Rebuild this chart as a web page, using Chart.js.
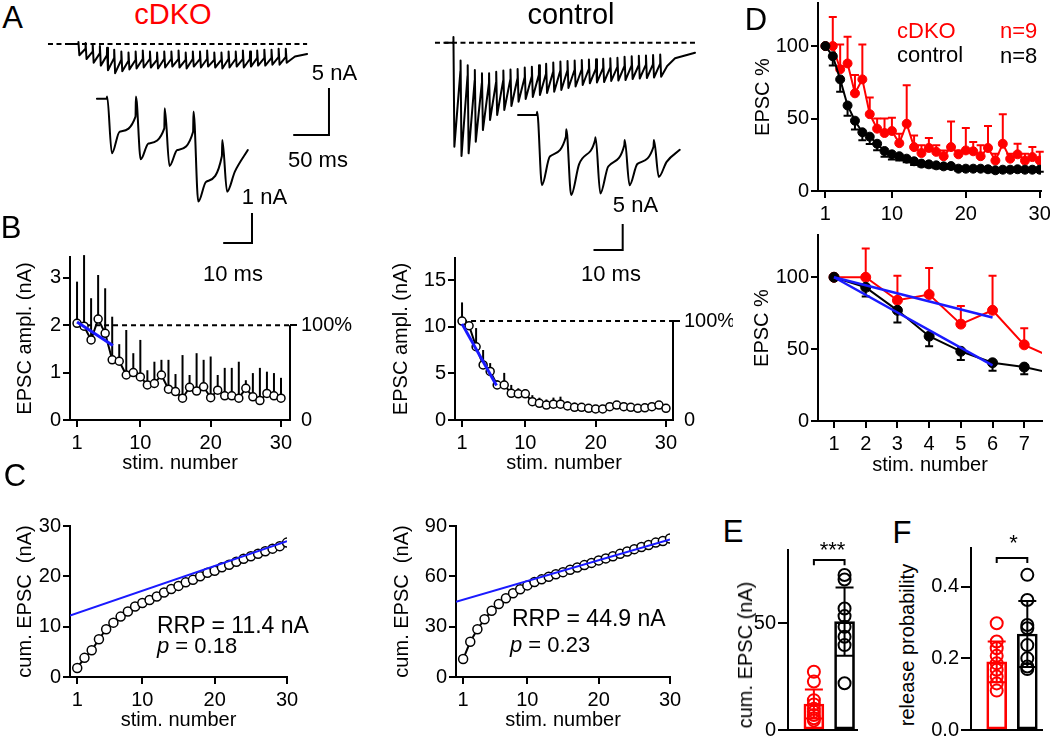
<!DOCTYPE html>
<html>
<head>
<meta charset="utf-8">
<title>EPSC trains cDKO vs control</title>
<script src="https://cdn.jsdelivr.net/npm/chart.js@4.4.1/dist/chart.umd.min.js"></script>
<style>
  html, body { margin: 0; padding: 0; background: #fff; }
  body { position: relative; width: 1050px; height: 738px; overflow: hidden;
         font-family: "Liberation Sans", Arial, Helvetica, sans-serif; }
  canvas { position: absolute; }
  .t { position: absolute; white-space: nowrap; line-height: 1; color: #000; }
</style>
</head>
<body>
<script>
// ---------------- data ----------------
const stim = [1, 2, 3, 4, 5, 6, 7, 8, 9, 10, 11, 12, 13, 14, 15, 16, 17, 18, 19, 20,
              21, 22, 23, 24, 25, 26, 27, 28, 29, 30];
const groups = [0, 1];   // 0 = cDKO, 1 = control

// A: example traces (nA), one entry per stimulus, 10 ms apart
const cdkoPre    = [0, -0.5, -0.8, -1.0, -1.2, -1.5, -1.7, -1.8, -1.7, -1.6, -1.6, -1.7, -1.6, -1.6, -1.6,
                    -1.7, -1.6, -1.6, -1.6, -1.7, -1.7, -1.6, -1.6, -1.6, -1.6, -1.5, -1.5, -1.5, -1.4, -1.4];
const cdkoSpike  = [0.2, 0.1, -0.1, -0.2, -0.4, -0.6, -0.8, -0.9, -0.8, -0.7, -0.8, -0.9, -0.8, -0.8, -0.7,
                    -0.9, -0.8, -0.8, -0.7, -0.9, -0.9, -0.8, -0.8, -0.7, -0.8, -0.7, -0.6, -0.6, -0.5, -0.5];
const cdkoTrough = [-1.2, -1.6, -2.0, -2.3, -2.8, -3.1, -2.9, -2.7, -2.6, -2.5, -2.5, -2.6, -2.5, -2.4, -2.5,
                    -2.6, -2.4, -2.5, -2.4, -2.5, -2.6, -2.5, -2.4, -2.5, -2.4, -2.3, -2.3, -2.2, -2.2, -2.0];
const cdkoTail   = [[303, -1.33], [320, -1.06]];              // [ms, nA]
const ctrlPre    = [0, -3.0, -3.5, -4.0, -4.3, -4.3, -4.2, -4.0, -3.9, -3.8, -3.7, -3.6, -3.4, -3.3, -3.1,
                    -3.0, -2.95, -2.9, -2.85, -2.8, -2.75, -2.7, -2.65, -2.6, -2.5, -2.45, -2.4, -2.35, -2.3, -2.25];
const ctrlSpike  = [0.6, -1.9, -2.4, -2.9, -3.25, -3.25, -3.1, -2.95, -2.85, -2.8, -2.65, -2.55, -2.4, -2.25, -2.1,
                    -2.0, -1.95, -1.9, -1.85, -1.8, -1.75, -1.7, -1.65, -1.6, -1.5, -1.45, -1.4, -1.35, -1.3, -1.25];
const ctrlTrough = [-11.06, -12.05, -11.77, -10.53, -9.29, -8.22, -7.69, -7.16, -6.73, -6.28, -5.99, -5.78, -5.56, -5.35, -5.21,
                    -5.03, -4.82, -4.66, -4.50, -4.32, -4.23, -4.18, -4.07, -4.02, -3.97, -3.86, -3.81, -3.76, -3.70, -3.62];
const ctrlTail   = [[300, -2.48], [311, -1.66], [339, -1.06]];

// A insets: first five responses (nA)
const cdkoInPre    = [0, -0.6, -0.99, -1.1, -1.91];
const cdkoInTop    = [0.07, 0.07, -0.32, -0.43, -1.38];
const cdkoInTrough = [-1.82, -2.02, -2.24, -3.43, -3.1];
const cdkoInMid    = [-1.1, -1.49, -1.71, -2.77, -2.43];
const cdkoInEnd    = -1.71;
const ctrlInPre    = [0, -4.2, -4.8, -5.8, -6.1];
const ctrlInTop    = [0.63, -2.75, -4.3, -4.8, -4.8];
const ctrlInTrough = [-13.5, -15.4, -15.1, -13.5, -11.9];
const ctrlInMid    = [-8.0, -9.5, -9.9, -9.4, -9.0];
const ctrlInEnd    = -6.7;

// B: EPSC amplitude (nA) mean and SEM
const cdkoAmp   = [2.04, 1.98, 1.69, 2.13, 1.83, 1.27, 1.24, 0.95, 1.00, 0.91, 0.74, 0.77, 0.95, 0.65, 0.60,
                   0.46, 0.69, 0.61, 0.70, 0.47, 0.63, 0.51, 0.51, 0.46, 0.67, 0.49, 0.41, 0.56, 0.51, 0.46];
const cdkoAmpSd = [0.88, 1.50, 0.88, 0.93, 0.95, 0.91, 0.36, 0.95, 0.41, 0.78, 0.31, 0.46, 0.32, 0.62, 0.37,
                   0.91, 0.26, 0.80, 0.57, 0.87, 0.32, 0.59, 0.59, 0.77, 0.17, 0.50, 0.69, 0.46, 0.48, 0.43];
const ctrlAmp   = [10.6, 10.1, 7.85, 5.9, 5.2, 3.75, 3.75, 2.86, 2.8, 2.8, 1.96, 1.79, 1.6, 1.7, 1.7,
                   1.5, 1.36, 1.36, 1.25, 1.18, 1.18, 1.43, 1.6, 1.43, 1.36, 1.25, 1.3, 1.43, 1.6, 1.25];
const ctrlAmpSd = [2.0, 0.4, 2.0, 1.6, 0.9, 0.5, 1.3, 0.9, 0.6, 0.5, 0.7, 0.6, 0.6, 0.7, 0.8,
                   0.5, 0.5, 0.4, 0.4, 0.4, 0.4, 0.4, 0.4, 0.4, 0.4, 0.4, 0.4, 0.4, 0.4, 0.4];
const cdkoRef = 2.0, ctrlRef = 10.6;            // 100 % level
const cdkoFit = [{x: 1, y: 2.07}, {x: 6.1, y: 1.57}];
const ctrlFit = [{x: 1, y: 10.3}, {x: 5.9, y: 3.7}];

// C: cumulative EPSC (nA) and back-extrapolated line
const cdkoCum = [1.8, 3.8, 5.3, 7.5, 9.5, 10.8, 12, 13, 14, 14.7, 15.3, 16, 16.8, 17.5, 18.1,
                 18.8, 19.3, 20, 20.7, 21.1, 21.8, 22.3, 22.9, 23.5, 24, 24.5, 25, 25.5, 26, 26.7];
const ctrlCum = [10.7, 21, 28.5, 34.4, 39.5, 43.5, 46.9, 49.9, 52.3, 54.6, 56.6, 58.2, 59.7, 61.2, 62.5,
                 63.9, 65.3, 66.7, 68, 69.5, 70.7, 72, 73.4, 74.8, 76.2, 77.5, 78.7, 80.1, 81.1, 82.5];
const cdkoRrpFit = [{x: 0, y: 12.2}, {x: 30, y: 27.0}];
const ctrlRrpFit = [{x: 0, y: 44.9}, {x: 30, y: 82.0}];

// D: normalised EPSC (%) mean and SEM
const ctrlNorm   = [100, 93, 77, 59, 48.5, 40.5, 37.5, 32.6, 27.6, 25.3, 24, 22.3, 20.5, 18.9, 18.4,
                    17.7, 17, 17.2, 15.4, 15.4, 15.4, 15.4, 15, 14.3, 14.7, 14.7, 15, 14.7, 14.7, 14.7];
const ctrlNormSd = [0, 6.4, 8.5, 7, 6, 5.5, 5, 4.5, 4, 3.5, 3, 2.5, 2.5, 2, 2,
                    2, 1.8, 1.8, 1.5, 1.5, 1.5, 1.5, 1.5, 1.5, 1.5, 1.5, 1.5, 1.5, 1.5, 1.5];
const cdkoNorm   = [100, 100, 84, 88, 67.4, 77, 53, 43, 40, 41.4, 33, 46.4, 30.3, 26.2, 29.7,
                    27, 24, 30.3, 25.3, 28, 27.4, 24, 29.7, 21, 32.6, 22.3, 25.3, 21, 23.4, 21];
const cdkoNormSd = [0, 20, 17, 18.5, 12.6, 24, 11.5, 7, 10, 9.2, 6.5, 26.6, 8, 5.3, 6.8,
                    4.5, 4, 17.7, 2.7, 15.4, 6.4, 7.5, 15.1, 4.7, 20.3, 3.4, 7.3, 4.7, 6.9, 6];
const cdkoNormFit = [{x: 1, y: 100}, {x: 6, y: 72}];
const ctrlNormFit = [{x: 1, y: 100}, {x: 6, y: 38.7}];

// E: cumulative EPSC per cell (nA); F: release probability per cell
const cdkoCumCells = [27.3, 22.7, 14, 12, 10, 8.5, 7, 5.5, 4.5];
const ctrlCumCells = [72.7, 70.6, 57, 53.4, 48.4, 43.7, 39.8, 21.9];
const cumMean = [12.2, 50.8], cumSd = [6.8, 16];
const cdkoPrCells = [0.298, 0.247, 0.228, 0.207, 0.186, 0.168, 0.149, 0.130, 0.110];
const ctrlPrCells = [0.433, 0.363, 0.293, 0.284, 0.237, 0.200, 0.177, 0.170];
const prMean = [0.19, 0.268], prSd = [0.057, 0.092];

// ---------------- setup ----------------
const RED = '#ff0000', BLUE = '#1a1aff', BLACK = '#000';
Chart.defaults.font.family = '"Liberation Sans", Arial, Helvetica, sans-serif';
Chart.defaults.font.size = 20;
Chart.defaults.color = BLACK;
Chart.defaults.animation = false;
Chart.defaults.plugins.legend.display = false;
Chart.defaults.plugins.tooltip.enabled = false;

// error bars from the dataset's errUp / errDown arrays
function drawErrors(chart, index) {
  const ds = chart.data.datasets[index];
  if (!ds.errUp && !ds.errDown) return;
  const meta = chart.getDatasetMeta(index);
  const ys = chart.scales[meta.yAxisID];
  const area = chart.chartArea;
  const ctx = chart.ctx;
  ctx.save();
  ctx.lineWidth = ds.errWidth || 2;
  meta.data.forEach((el, i) => {
    if (el.x < area.left - 1 || el.x > area.right + 1) return;
    const v = ds.data[i].y;
    const yc = ys.getPixelForValue(v);
    ctx.strokeStyle = Array.isArray(ds.errColor) ? ds.errColor[i] : ds.errColor;
    [[ds.errUp, 1], [ds.errDown, -1]].forEach(([arr, s]) => {
      if (!arr || !arr[i]) return;
      const ye = ys.getPixelForValue(v + s * arr[i]);
      ctx.beginPath();
      ctx.moveTo(el.x, yc);
      ctx.lineTo(el.x, ye);
      if (ds.errCap) {
        ctx.moveTo(el.x - ds.errCap / 2, ye);
        ctx.lineTo(el.x + ds.errCap / 2, ye);
      }
      ctx.stroke();
    });
  });
  ctx.restore();
}
Chart.register({
  id: 'errorBars',
  beforeDatasetDraw(chart, args) { if (!chart.data.datasets[args.index].errAfter) drawErrors(chart, args.index); },
  afterDatasetDraw(chart, args) { if (chart.data.datasets[args.index].errAfter) drawErrors(chart, args.index); }
});
// right-hand % axis of panel B only runs from 0 to 100 %
Chart.register({
  id: 'pctAxisLine',
  afterDraw(chart) {
    const s = chart.scales.y2;
    if (!s) return;
    const ctx = chart.ctx, x = chart.chartArea.right;
    ctx.save();
    ctx.strokeStyle = BLACK;
    ctx.lineWidth = 2;
    ctx.beginPath();
    ctx.moveTo(x, s.getPixelForValue(0) + 1);
    ctx.lineTo(x, s.getPixelForValue(100));
    ctx.stroke();
    ctx.restore();
  }
});

function addCanvas(left, top, width, height) {
  const c = document.createElement('canvas');
  c.width = width;
  c.height = height;
  c.style.left = left + 'px';
  c.style.top = top + 'px';
  document.body.appendChild(c);
  return c;
}

function text(html, x, y, size, opts = {}) {
  const d = document.createElement('div');
  d.className = 't';
  d.innerHTML = html;
  d.style.fontSize = size + 'px';
  d.style.left = x + 'px';
  d.style.top = y + 'px';
  let tf = opts.left ? 'translate(0,-50%)' : 'translate(-50%,-50%)';
  if (opts.rot) tf += ' rotate(-90deg)';
  d.style.transform = tf;
  if (opts.color) d.style.color = opts.color;
  document.body.appendChild(d);
}

const ticksAt = values => s => { s.ticks = values.map(v => ({value: v})); };
const xy = (xs, ys) => ys.map((v, i) => ({x: xs[i], y: v}));
const at = (x, ys) => ys.map(v => ({x, y: v}));
const line = (data, color, width, extra) => Object.assign(
  {type: 'line', data, borderColor: color, borderWidth: width, pointRadius: 0, pointHoverRadius: 0, fill: false}, extra);

function xAxis(o) {
  return {
    type: 'linear', position: 'bottom', min: o.min, max: o.max, offset: false,
    afterBuildTicks: ticksAt(o.ticks || [o.min, o.max]),
    afterFit: s => { s.height = o.size; },
    border: {color: BLACK, width: 2},
    grid: {drawOnChartArea: false, drawTicks: !!o.ticks, color: BLACK, lineWidth: 2, tickLength: 7},
    ticks: {display: !!o.ticks, padding: 4, maxRotation: 0, autoSkip: false, font: {size: 20},
            callback: v => String(v)},
    title: {display: !!o.title, text: o.title || '', font: {size: 20}, padding: Math.max(0, o.titlePad)}
  };
}
function yAxis(o) {
  return {
    type: 'linear', position: 'left', min: 0, max: o.max,
    afterBuildTicks: ticksAt(o.ticks),
    afterFit: s => { s.width = o.size; },
    border: {color: BLACK, width: 2},
    grid: {drawOnChartArea: false, color: BLACK, lineWidth: 2, tickLength: o.tick || 7},
    ticks: {padding: o.pad ?? 2, font: {size: 20}, callback: o.fmt || (v => String(v))},
    title: {display: !!o.title, text: o.title || '', font: {size: 20}, padding: Math.max(0, o.titlePad)}
  };
}
function pctAxis(yMax, ref, width) {
  return {
    type: 'linear', position: 'right', min: 0, max: yMax / ref * 100,
    afterBuildTicks: ticksAt([0, 100]),
    afterFit: s => { s.width = width; },
    border: {display: false},
    grid: {drawOnChartArea: false, lineWidth: 2, tickLength: 7,
           tickColor: c => (c.tick && c.tick.value === 100) ? BLACK : 'rgba(0,0,0,0)'},
    ticks: {padding: 4, font: {size: 20}, callback: v => v === 100 ? '100%' : '0'}
  };
}

// area = chart area [x0, y0, x1, y1] on the page, m = room for axes round it
function plot(area, m, cfg) {
  const [x0, y0, x1, y1] = area;
  const L = x0 - m.l, T = y0 - m.t, W = x1 - x0 + m.l + m.r, H = y1 - y0 + m.t + m.b;
  const c = addCanvas(L, T, W, H);
  const scales = {
    x: xAxis(Object.assign({size: m.b, titlePad: cfg.x.titleY ? T + H - 12 - cfg.x.titleY : 0}, cfg.x)),
    y: yAxis(Object.assign({size: m.l, titlePad: cfg.y.titleX ? cfg.y.titleX - L - 12 : 0}, cfg.y))
  };
  if (cfg.pct) scales.y2 = pctAxis(cfg.y.max, cfg.pct, m.r);
  return new Chart(c, {
    type: cfg.type || 'line',
    data: {datasets: cfg.datasets},
    options: {
      responsive: false, events: [],
      layout: {padding: {left: 0, top: m.t, right: cfg.pct ? 0 : m.r, bottom: 0}},
      scales
    }
  });
}

// ---------------- A: traces ----------------
function trainPoints(pre, spike, trough, tStart, tail) {
  const pts = [{x: tStart, y: 0}];
  pre.forEach((p, i) => {
    const t = i * 10;
    pts.push({x: t, y: p}, {x: t + 0.2, y: spike[i]}, {x: t + 1.5, y: trough[i]});
  });
  tail.forEach(([t, v]) => pts.push({x: t, y: v}));
  return pts;
}
function insetPoints(pre, top, trough, mid, end, tStart) {
  const pts = [{x: tStart, y: 0}];
  pre.forEach((p, i) => {
    const t = i * 10;
    pts.push({x: t, y: p}, {x: t + 0.15, y: top[i]}, {x: t + 1.8, y: trough[i]}, {x: t + 4.5, y: mid[i]});
  });
  pts.push({x: 49, y: end});
  return pts;
}
const scaleBar = b => [{x: b.t - b.dt, y: b.i}, {x: b.t, y: b.i}, {x: b.t, y: b.i + b.di}];

function traceChart(box, main, inset, datasets) {
  const [L, T, W, H] = box;
  const c = addCanvas(L, T, W, H);
  const lx = (axis, p0, s) => ({type: 'linear', axis, display: false, min: (L - p0) / s, max: (L + W - p0) / s});
  const ly = (axis, p0, s) => ({type: 'linear', axis, display: false, min: -(T + H - p0) / s, max: (p0 - T) / s});
  return new Chart(c, {
    type: 'line',
    data: {datasets},
    options: {
      responsive: false, events: [], layout: {padding: 0},
      scales: {
        x: lx('x', main.x0, main.sx), y: ly('y', main.y0, main.sy),
        xi: lx('x', inset.x0, inset.sx), yi: ly('y', inset.y0, inset.sy)
      }
    }
  });
}
const trace = {borderJoinStyle: 'round', borderCapStyle: 'round'};
const inAx = {xAxisID: 'xi', yAxisID: 'yi'};

traceChart([40, 30, 300, 225], {x0: 78.3, sx: 0.715, y0: 44, sy: 9.4}, {x0: 106.7, sx: 2.88, y0: 98.7, sy: 30}, [
  line([{x: -42.4, y: 0}, {x: 320, y: 0}], BLACK, 2, {borderDash: [5, 3.5]}),
  line(trainPoints(cdkoPre, cdkoSpike, cdkoTrough, -15.8, cdkoTail), BLACK, 2, trace),
  line(scaleBar({t: 350.6, i: -9.68, dt: 50, di: 5}), BLACK, 2),
  line(insetPoints(cdkoInPre, cdkoInTop, cdkoInTrough, cdkoInMid, cdkoInEnd, -3.4), BLACK, 2,
       Object.assign({cubicInterpolationMode: 'monotone'}, trace, inAx)),
  line(scaleBar({t: 50.45, i: -4.81, dt: 10, di: 1}), BLACK, 2, inAx)
]);

traceChart([430, 25, 280, 235], {x0: 453.3, sx: 0.713, y0: 42.7, sy: 9.4}, {x0: 536.7, sx: 2.92, y0: 115, sy: 5.2}, [
  line([{x: -25.7, y: 0}, {x: 339, y: 0}], BLACK, 2, {borderDash: [5, 3.5]}),
  line(trainPoints(ctrlPre, ctrlSpike, ctrlTrough, -11.6, ctrlTail), BLACK, 2, trace),
  line(insetPoints(ctrlInPre, ctrlInTop, ctrlInTrough, ctrlInMid, ctrlInEnd, -6.4), BLACK, 2,
       Object.assign({cubicInterpolationMode: 'monotone'}, trace, inAx)),
  line(scaleBar({t: 29.45, i: -25.96, dt: 10, di: 5}), BLACK, 2, inAx)
]);

// ---------------- B: amplitudes ----------------
const openPts = {type: 'line', borderColor: BLACK, borderWidth: 2, pointRadius: 4, pointBorderWidth: 1.5,
                 pointBorderColor: BLACK, pointBackgroundColor: '#fff', errColor: BLACK, errWidth: 2};

plot([70, 257, 290, 420], {l: 70, t: 20, r: 70, b: 55}, {
  x: {min: 0, max: 31.28, ticks: [1, 10, 20, 30], title: 'stim. number', titleY: 463},
  y: {max: 3.44, ticks: [0, 1, 2, 3], title: 'EPSC ampl. (nA)', titleX: 25},
  pct: cdkoRef,
  datasets: [
    line([{x: 1, y: cdkoRef}, {x: 31.28, y: cdkoRef}], BLACK, 2, {borderDash: [5, 4], order: 3}),
    line(cdkoFit, BLUE, 3, {order: 0}),
    Object.assign({data: xy(stim, cdkoAmp), errUp: cdkoAmpSd, order: 1, clip: false}, openPts)
  ]
});

plot([455, 258, 673, 420], {l: 85, t: 20, r: 60, b: 55}, {
  x: {min: 0, max: 31.0, ticks: [1, 10, 20, 30], title: 'stim. number', titleY: 463},
  y: {max: 17.36, ticks: [0, 5, 10, 15], title: 'EPSC ampl. (nA)', titleX: 401},
  pct: ctrlRef,
  datasets: [
    line([{x: 1, y: ctrlRef}, {x: 31.0, y: ctrlRef}], BLACK, 2, {borderDash: [5, 4], order: 3}),
    line(ctrlFit, BLUE, 3, {order: 0}),
    Object.assign({data: xy(stim, ctrlAmp), errUp: ctrlAmpSd, order: 1}, openPts)
  ]
});

// ---------------- C: cumulative ----------------
const cumPts = {type: 'line', borderColor: BLACK, borderWidth: 2, pointRadius: 4.5, pointBorderWidth: 1.5,
                pointBorderColor: BLACK, pointBackgroundColor: '#fff', order: 1};

plot([70, 526, 287, 677], {l: 70, t: 20, r: 20, b: 55}, {
  x: {min: 0, max: 30, ticks: [1, 10, 20, 30], title: 'stim. number', titleY: 720},
  y: {max: 30, ticks: [0, 10, 20, 30], title: 'cum. EPSC  (nA)', titleX: 25},
  datasets: [line(cdkoRrpFit, BLUE, 2, {order: 0}), Object.assign({data: xy(stim, cdkoCum)}, cumPts)]
});

plot([456, 526, 670, 677], {l: 85, t: 20, r: 20, b: 55}, {
  x: {min: 0, max: 30, ticks: [1, 10, 20, 30], title: 'stim. number', titleY: 720},
  y: {max: 90, ticks: [0, 30, 60, 90], title: 'cum. EPSC  (nA)', titleX: 402},
  datasets: [line(ctrlRrpFit, BLUE, 2, {order: 0}), Object.assign({data: xy(stim, ctrlCum)}, cumPts)]
});

// ---------------- D: normalised ----------------
const dot = (color, r) => ({type: 'line', borderColor: color, borderWidth: 2, pointRadius: r, pointBorderWidth: 1,
                            pointBorderColor: color, pointBackgroundColor: color,
                            errColor: color, errWidth: 2, errCap: 8});

plot([818, 3, 1041, 191], {l: 83, t: 20, r: 18, b: 40}, {
  x: {min: 0, max: 30.17, ticks: [1, 10, 20, 30]},
  y: {max: 129.7, ticks: [0, 50, 100], title: 'EPSC %', titleX: 763},
  datasets: [
    Object.assign({data: xy(stim, ctrlNorm), errDown: ctrlNormSd, order: 1}, dot(BLACK, 4.5)),
    Object.assign({data: xy(stim, cdkoNorm), errUp: cdkoNormSd, order: 2}, dot(RED, 4.5))
  ]
});

plot([818, 235, 1042, 421], {l: 83, t: 20, r: 18, b: 56}, {
  x: {min: 0.495, max: 7.56, ticks: [1, 2, 3, 4, 5, 6, 7], title: 'stim. number', titleY: 465},
  y: {max: 129.4, ticks: [0, 50, 100], title: 'EPSC %', titleX: 762},
  datasets: [
    line(cdkoNormFit, BLUE, 2.5, {order: 0}),
    line(ctrlNormFit, BLUE, 2.5, {order: 0}),
    Object.assign({data: xy(stim, ctrlNorm), errDown: ctrlNormSd, order: 1}, dot(BLACK, 5)),
    Object.assign({data: xy(stim, cdkoNorm), errUp: cdkoNormSd, order: 2}, dot(RED, 5))
  ]
});

// ---------------- E, F: per-cell bars ----------------
function barSet(means, sd) {
  return {type: 'bar', data: xy(groups, means), backgroundColor: 'rgba(0,0,0,0)', borderColor: [RED, BLACK],
          borderWidth: 2, borderSkipped: false, barThickness: 20, order: 2,
          errUp: sd, errDown: sd, errColor: [RED, BLACK], errWidth: 2, errCap: 18, errAfter: true};
}
const cells = (x, vals, color) => ({type: 'line', showLine: false, data: at(x, vals), pointRadius: 6,
                                    pointBorderWidth: 2, pointBorderColor: color,
                                    pointBackgroundColor: 'rgba(0,0,0,0)', order: 1});
const bracket = (lo, hi) => line([{x: 0, y: lo}, {x: 0, y: hi}, {x: 1, y: hi}, {x: 1, y: lo}], BLACK, 2,
                                 {order: 0, clip: false});

plot([788, 550, 860, 730], {l: 40, t: 20, r: 5, b: 20}, {
  type: 'bar',
  x: {min: -0.844, max: 1.406},
  y: {max: 84.4, ticks: [0, 50], tick: 10, pad: 2},
  datasets: [barSet(cumMean, cumSd), cells(0, cdkoCumCells, RED), cells(1, ctrlCumCells, BLACK), bracket(77.3, 79.7)]
});

plot([971, 548, 1045, 730], {l: 50, t: 20, r: 5, b: 20}, {
  type: 'bar',
  x: {min: -0.84, max: 1.48},
  y: {max: 0.508, ticks: [0, 0.2, 0.4], tick: 10, pad: 2, fmt: v => v.toFixed(1)},
  datasets: [barSet(prMean, prSd), cells(0, cdkoPrCells, RED), cells(1, ctrlPrCells, BLACK), bracket(0.466, 0.48)]
});

// ---------------- text ----------------
text('A', 12.5, 17, 31);
text('B', 11, 227, 31);
text('C', 15, 475, 31);
text('D', 756, 19, 31);
text('E', 733, 531, 31);
text('F', 902, 532, 31);
text('cDKO', 173, 14, 29, {color: RED});
text('control', 571, 14, 29);
text('5 nA', 334.5, 72.5, 22);
text('50 ms', 318, 160, 22);
text('1 nA', 264.5, 196.5, 22);
text('10 ms', 233, 273.5, 22);
text('5 nA', 635.5, 205, 22);
text('10 ms', 611, 273.5, 22);
text('RRP = 11.4 nA', 157, 625, 23, {left: true});
text('<i>p</i> = 0.18', 157, 646, 22, {left: true});
text('RRP = 44.9 nA', 512, 617.5, 23, {left: true});
text('<i>p</i> = 0.23', 510, 644.5, 22, {left: true});
text('***', 832.5, 549.5, 22);
text('*', 1013.5, 542.5, 22);
text('cDKO', 897, 31, 22, {left: true, color: RED});
text('n=9', 1000, 31, 22, {left: true, color: RED});
text('control', 897, 55, 22, {left: true});
text('n=8', 1000, 55.5, 22, {left: true});
text('cum. EPSC (nA)', 745, 655, 20, {rot: true});
text('release probability', 907, 645, 20, {rot: true});
</script>
</body>
</html>
